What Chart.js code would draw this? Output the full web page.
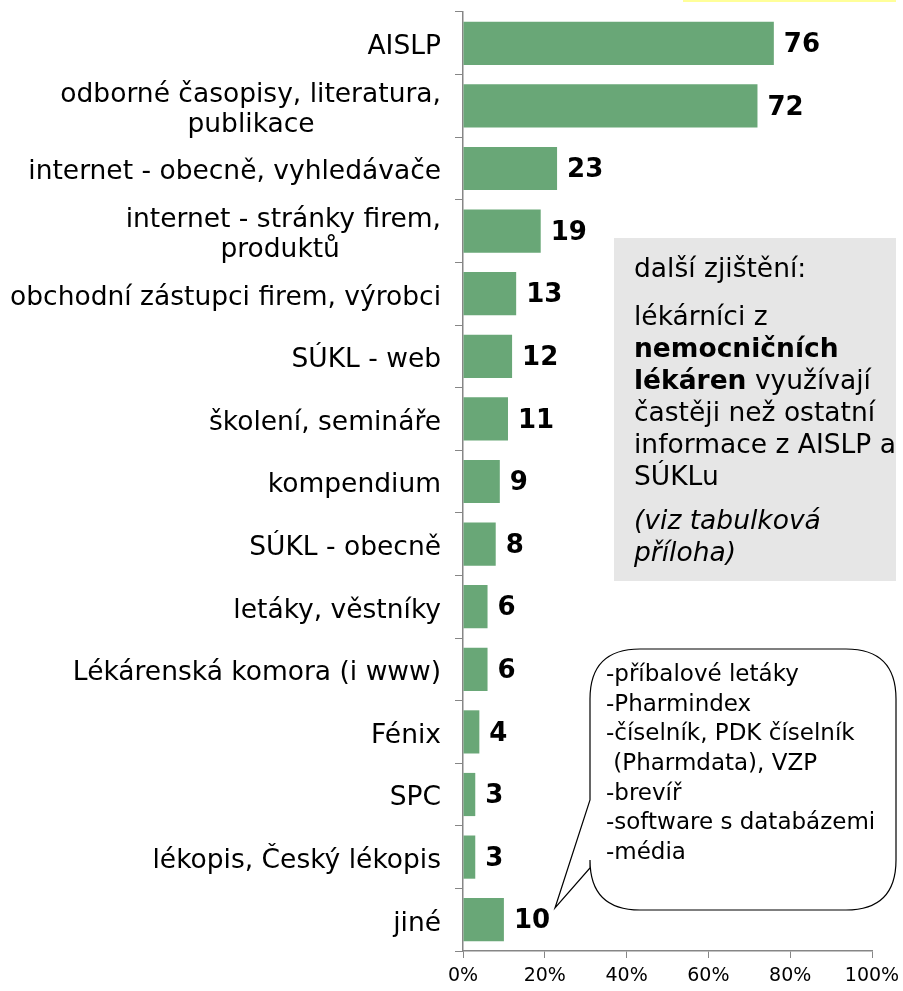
<!DOCTYPE html>
<html>
<head>
<meta charset="utf-8">
<script src="https://cdn.jsdelivr.net/npm/chart.js@4.4.0/dist/chart.umd.min.js"></script>
<style>
  body { margin: 0; background: #fff; }
  #wrap { width: 903px; height: 991px; position: relative; }
</style>
</head>
<body>
<div id="wrap"><canvas id="chartStuff"></canvas></div>
<script>
// categories (multi-line ones are arrays)
var categories = [
  "AISLP",
  ["odborné časopisy, literatura,", "publikace"],
  "internet - obecně, vyhledávače",
  ["internet - stránky firem,", "produktů"],
  "obchodní zástupci firem, výrobci",
  "SÚKL - web",
  "školení, semináře",
  "kompendium",
  "SÚKL - obecně",
  "letáky, věstníky",
  "Lékárenská komora (i www)",
  "Fénix",
  "SPC",
  "lékopis, Český lékopis",
  "jiné"
];
var values = [76, 72, 23, 19, 13, 12, 11, 9, 8, 6, 6, 4, 3, 3, 10];
var xTicks = [0, 20, 40, 60, 80, 100];

var boxLines = [
  [{t: "další zjištění:", s: "normal"}],
  [{t: "lékárníci z", s: "normal"}],
  [{t: "nemocničních", s: "bold"}],
  [{t: "lékáren", s: "bold"}, {t: " využívají", s: "normal"}],
  [{t: "častěji než ostatní", s: "normal"}],
  [{t: "informace z AISLP a", s: "normal"}],
  [{t: "SÚKLu", s: "normal"}],
  [{t: "(viz tabulková", s: "italic"}],
  [{t: "příloha)", s: "italic"}]
];
var bubbleLines = [
  "-příbalové letáky",
  "-Pharmindex",
  "-číselník, PDK číselník",
  " (Pharmdata), VZP",
  "-brevíř",
  "-software s databázemi",
  "-média"
];

var FONT = "'DejaVu Sans', Verdana, sans-serif";
var LABEL_SIZE = 26.5;
var axisGray = "#868686";

// second lines of wrapped labels are centred under the first one,
// so pad them on the right with spaces (labels are right aligned)
var measure = document.createElement("canvas").getContext("2d");
measure.font = LABEL_SIZE + "px " + FONT;
var spaceW = measure.measureText("\u00a0").width;
var yLabels = categories.map(function(c) {
  if (!Array.isArray(c)) return c;
  var w1 = measure.measureText(c[0]).width;
  var w2 = measure.measureText(c[1]).width;
  var n = Math.round((w1 - w2) / 2 / spaceW);
  return [c[0], c[1] + "\u00a0".repeat(Math.max(n, 0))];
});

// value labels next to the bars
var labelPlugin = {
  id: "valueLabels",
  afterDatasetsDraw: function(chart) {
    var ctx = chart.ctx;
    var meta = chart.getDatasetMeta(0);
    ctx.save();
    ctx.font = "bold 26px " + FONT;
    ctx.fillStyle = "#000";
    ctx.textBaseline = "middle";
    ctx.textAlign = "left";
    meta.data.forEach(function(bar, i) {
      ctx.fillText(values[i], bar.x + 10, bar.y + 2);
    });
    ctx.restore();
  }
};

// gray note box, speech bubble and the yellow strip at the top
var notesPlugin = {
  id: "notes",
  afterDraw: function(chart) {
    var ctx = chart.ctx;
    ctx.save();

    ctx.fillStyle = "#ffff99";
    ctx.fillRect(683, 0, 213, 2);

    ctx.fillStyle = "#e6e6e6";
    ctx.fillRect(614, 238, 282, 343);
    ctx.fillStyle = "#000";
    ctx.textBaseline = "middle";
    ctx.textAlign = "left";
    var ys = [270, 318, 350, 382, 414, 446, 478, 522, 554];
    boxLines.forEach(function(line, i) {
      var x = 634;
      line.forEach(function(part) {
        var f = part.s === "bold" ? "bold " : (part.s === "italic" ? "italic " : "");
        ctx.font = f + "26.5px " + FONT;
        ctx.fillText(part.t, x, ys[i]);
        x += ctx.measureText(part.t).width;
      });
    });

    // bubble
    var l = 590, t = 649, r = 896, b = 910, rad = 50;
    ctx.beginPath();
    ctx.moveTo(l + rad, t);
    ctx.lineTo(r - rad, t);
    ctx.quadraticCurveTo(r, t, r, t + rad);
    ctx.lineTo(r, b - rad);
    ctx.quadraticCurveTo(r, b, r - rad, b);
    ctx.lineTo(l + rad, b);
    ctx.quadraticCurveTo(l, b, l, b - rad);
    ctx.lineTo(l, 868);
    ctx.lineTo(555, 908);
    ctx.lineTo(l, 800);
    ctx.lineTo(l, t + rad);
    ctx.quadraticCurveTo(l, t, l + rad, t);
    ctx.closePath();
    ctx.fillStyle = "#fff";
    ctx.fill();
    ctx.strokeStyle = "#000";
    ctx.lineWidth = 1.2;
    ctx.stroke();

    ctx.fillStyle = "#000";
    ctx.font = "23px " + FONT;
    bubbleLines.forEach(function(s, i) {
      ctx.fillText(s, 606, 675 + i * 29.7);
    });
    ctx.restore();
  }
};

var ctx = document.getElementById("chartStuff").getContext("2d");
var myChart = new Chart(ctx, {
  type: "bar",
  data: {
    labels: yLabels,
    datasets: [{
      data: values,
      backgroundColor: "#69a777",
      barPercentage: 0.69,
      categoryPercentage: 1.0
    }]
  },
  plugins: [labelPlugin, notesPlugin],
  options: {
    indexAxis: "y",
    responsive: true,
    maintainAspectRatio: false,
    animation: false,
    layout: { padding: { top: 12, right: 31, left: 0, bottom: 0 } },
    plugins: {
      legend: { display: false },
      tooltip: { enabled: false }
    },
    scales: {
      x: {
        min: 0,
        max: 100,
        afterBuildTicks: function(scale) {
          scale.ticks = xTicks.map(function(v) { return {value: v}; });
        },
        afterFit: function(scale) {
          scale.height = 40;
          scale.paddingRight = 0;
          scale.paddingLeft = 0;
        },
        grid: { drawOnChartArea: false, color: axisGray, tickLength: 7 },
        border: { color: axisGray, width: 1.5 },
        ticks: {
          color: "#000",
          padding: 7,
          font: { family: FONT, size: 19 },
          callback: function(v) { return v + "%"; }
        }
      },
      y: {
        afterFit: function(scale) {
          scale.width = 463;
          scale.paddingTop = 0;
          scale.paddingBottom = 0;
        },
        grid: { drawOnChartArea: false, color: axisGray, tickLength: 8, offset: true },
        border: { color: axisGray, width: 1.5 },
        ticks: {
          autoSkip: false,
          color: "#000",
          padding: 14,
          labelOffset: 4,
          font: { family: FONT, size: LABEL_SIZE, lineHeight: 1.15 }
        }
      }
    }
  }
});
</script>
</body>
</html>
